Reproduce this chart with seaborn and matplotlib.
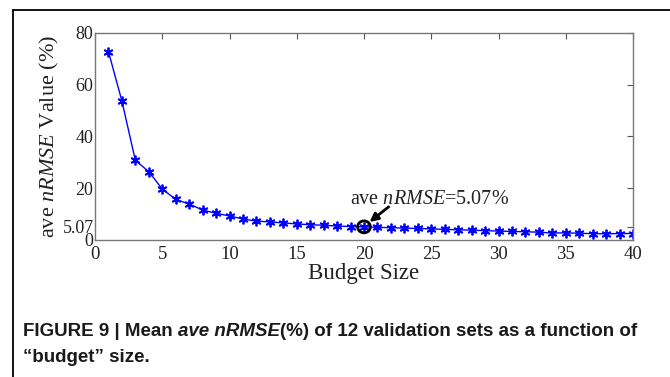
import matplotlib
matplotlib.use("Agg")
import matplotlib.pyplot as plt
import seaborn as sns
import pandas as pd
from matplotlib.patches import Ellipse
from matplotlib.lines import Line2D

budget_size = list(range(1, 41))
ave_nrmse = [72.8, 53.7, 30.8, 26.4, 19.7, 15.7, 13.9, 11.6, 10.3, 9.3,
             8.1, 7.3, 7.0, 6.6, 6.2, 5.9, 5.7, 5.4, 5.2, 5.07,
             4.9, 4.75, 4.6, 4.45, 4.3, 4.1, 3.95, 3.8, 3.6, 3.45,
             3.3, 3.2, 3.0, 2.7, 2.75, 2.6, 2.45, 2.4, 2.5, 2.5]
x_ticks = [0, 5, 10, 15, 20, 25, 30, 35, 40]
y_ticks = [0, 5.07, 20, 40, 60, 80]
y_tick_labels = ["0", "5.07", "20", "40", "60", "80"]
highlight_x = 20
highlight_y = 5.07

sns.set_style("white")
plt.rcParams['font.family'] = ['Liberation Serif', 'DejaVu Serif']
plt.rcParams['mathtext.fontset'] = 'custom'
plt.rcParams['mathtext.rm'] = 'Liberation Serif'
plt.rcParams['mathtext.it'] = 'Liberation Serif:italic'

df = pd.DataFrame({"Budget Size": budget_size, "ave": ave_nrmse})

fig = plt.figure(figsize=(6.7, 3.77), dpi=100)
ax = fig.add_axes([95/670, 1-240/377, (633-95)/670, (240-33)/377])

sns.lineplot(data=df, x="Budget Size", y="ave", ax=ax, color="#0000ff",
             marker=(6, 2, 0), markersize=7, markeredgecolor="#0000ff",
             markeredgewidth=1.3, linewidth=1.0)

ax.set_xlim(0, 40)
ax.set_ylim(0, 80)
ax.set_xticks(x_ticks)
ax.set_yticks(y_ticks)
ax.set_yticklabels(y_tick_labels)
ax.tick_params(direction="in", length=4, width=0.8, color="#555555",
               top=True, right=True, labelsize=13, pad=1,
               labelcolor="#222222")
ax.tick_params(axis="x", labelsize=13.5, pad=4)
for s in ax.spines.values():
    s.set_color("#777777")
    s.set_linewidth(1.0)
    s.set_visible(True)

ax.set_xlabel("Budget Size", fontsize=16.5, color="#222222", labelpad=0)
ax.set_ylabel(r"ave $nRMSE$ Value (%)", fontsize=16, color="#222222", labelpad=1)

# highlight circle
circ = Ellipse((highlight_x, highlight_y), width=0.95, height=4.6, fill=False,
               edgecolor="black", linewidth=2.0, zorder=5)
ax.add_patch(circ)
ax.annotate("", xy=(20.25, 6.3), xytext=(22.0, 13.5),
            arrowprops=dict(arrowstyle="-|>,head_length=0.5,head_width=0.25",
                            color="black", lw=2.0), zorder=6)
ax.text(18.95, 15.5, r"ave $nRMSE$=5.07%", fontsize=14.5, color="#222222",
        ha="left", va="center")

# frame lines of the figure box
fig.add_artist(Line2D([13/670, 1.0], [1-10/377, 1-10/377], color="black", lw=1.3))
fig.add_artist(Line2D([13/670, 13/670], [0, 1-10/377], color="black", lw=1.3))

cap_fam = ['Liberation Sans Narrow', 'Liberation Sans', 'DejaVu Sans']
cap_size = 13.5
y1 = 1 - 332/377
t1 = fig.text(23/670, y1, "FIGURE 9 | Mean ", fontsize=cap_size, fontweight="bold",
              family=cap_fam, va="center", ha="left", color="#1a1a1a")
fig.canvas.draw()
r = fig.canvas.get_renderer()
bb = t1.get_window_extent(r)
t2 = fig.text(bb.x1/670, y1, "ave nRMSE", fontsize=cap_size, fontweight="bold",
              style="italic", family=cap_fam, va="center", ha="left", color="#1a1a1a")
bb2 = t2.get_window_extent(r)
fig.text(bb2.x1/670, y1, "(%) of 12 validation sets as a function of", fontsize=cap_size,
         fontweight="bold", family=cap_fam, va="center", ha="left", color="#1a1a1a")
fig.text(23/670, 1 - 357/377, "\u201cbudget\u201d size.", fontsize=cap_size,
         fontweight="bold", family=cap_fam, va="center", ha="left", color="#1a1a1a")

fig.savefig("out.png", dpi=100)
